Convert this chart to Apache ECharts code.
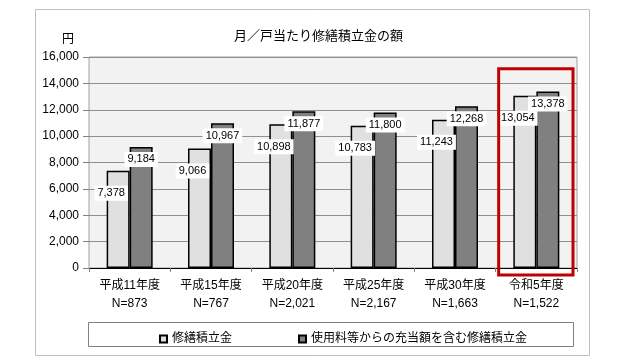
<!DOCTYPE html>
<html><head><meta charset="utf-8">
<script src="https://cdn.jsdelivr.net/npm/echarts@6/dist/echarts.min.js"></script>
<style>html,body{margin:0;padding:0;background:#fff}#c{width:640px;height:360px}</style>
</head><body><div id="c"></div>
<script>
const categories = ['平成11年度\nN=873','平成15年度\nN=767','平成20年度\nN=2,021','平成25年度\nN=2,167','平成30年度\nN=1,663','令和5年度\nN=1,522'];
const seriesNames = ['修繕積立金','使用料等からの充当額を含む修繕積立金'];
const reserve = [7378, 9066, 10898, 10783, 11243, 13054];
const reserveWithUsage = [9184, 10967, 11877, 11800, 12268, 13378];
const yTicks = {min:0, max:16000, interval:2000};
const highlightIndex = 5;
const highlightTop = 15100;

const FONT = '"Liberation Sans", "Noto Sans CJK JP", sans-serif';
const chart = echarts.init(document.getElementById('c'), null, {renderer:'canvas'});
const fmt = v => v.toLocaleString('en-US');
const lbl = (off) => ({
  show:true, position:'insideTop', distance:5, offset:off,
  formatter: p => fmt(p.value), fontFamily:FONT, fontSize:11, color:'#000',
  backgroundColor:'#fff', padding:[2,3]
});
chart.setOption({
  animation:false,
  textStyle:{fontFamily:FONT},
  title:{text:'月／戸当たり修繕積立金の額', left:229, top:25,
    textStyle:{fontFamily:FONT, fontSize:13, fontWeight:'normal', color:'#000'}},
  grid:{left:89, right:63, top:57, bottom:92, show:true, backgroundColor:'#f2f2f2', borderColor:'#a0a0a0', borderWidth:1},
  legend:{left:154, top:328, itemWidth:7, itemHeight:7, itemGap:66, icon:'rect',
    textStyle:{fontFamily:FONT, fontSize:12, color:'#000'}, data:seriesNames},
  xAxis:{type:'category', data:categories,
    axisLine:{lineStyle:{color:'#000', width:1}},
    axisTick:{show:true, length:4, lineStyle:{color:'#808080'}},
    axisLabel:{fontFamily:FONT, fontSize:12, color:'#000', lineHeight:18, margin:9}},
  yAxis:{type:'value', min:yTicks.min, max:yTicks.max, interval:yTicks.interval,
    axisLine:{show:false},
    axisTick:{show:true, length:6, lineStyle:{color:'#808080'}},
    splitLine:{lineStyle:{color:'#909090', width:1}},
    axisLabel:{fontFamily:FONT, fontSize:12, color:'#000', margin:10, formatter:v=>fmt(v)}},
  series:[
    {name:seriesNames[0], type:'bar', data:reserve, barWidth:23, barGap:'0%',
      itemStyle:{color:'#e0e0e0', borderColor:'#000', borderWidth:1.5},
      label:lbl([-7,10])},
    {name:seriesNames[1], type:'bar', data:reserveWithUsage, barWidth:23, barGap:'0%',
      itemStyle:{color:'#808080', borderColor:'#000', borderWidth:1.5},
      label:lbl([0,0])}
  ]
});
const cx = chart.convertToPixel({xAxisIndex:0}, highlightIndex);
const yTop = chart.convertToPixel({yAxisIndex:0}, highlightTop);
const y0 = chart.convertToPixel({yAxisIndex:0}, 0);
const band = chart.getModel().getComponent('xAxis',0).axis.getBandWidth();
chart.setOption({graphic:[
  {type:'rect', shape:{x:35.5, y:9.5, width:554, height:346}, style:{fill:null, stroke:'#c0c0c0', lineWidth:1}, z:-1},
  {type:'rect', shape:{x:88.5, y:322.5, width:485, height:24}, style:{fill:null, stroke:'#808080', lineWidth:1}},
  {type:'text', x:68, y:40, style:{text:'円', fontFamily:FONT, fontSize:12, fill:'#000', textAlign:'center', textVerticalAlign:'middle'}},
  {type:'rect', shape:{x:cx - band/2 + 3, y:yTop, width:band - 7, height:(y0 - yTop) + 7},
    style:{fill:null, stroke:'#c00000', lineWidth:3}, z:100}
]});
</script></body></html>
